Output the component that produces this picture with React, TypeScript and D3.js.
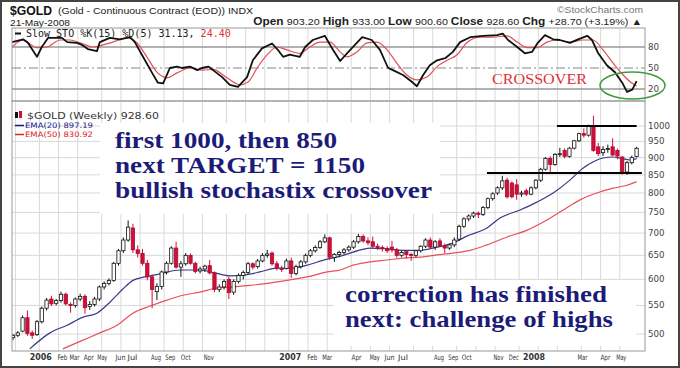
import React from 'react';
import * as d3 from 'd3';

// Weekly OHLC, $GOLD, Nov-2005 .. 21-May-2008 (131 bars)
const OPEN = [494,498,505,528,502,499,521,545,562,554,559,571,552,550,562,567,548,552,562,585,592,598,633,660,684,712,662,654,633,605,576,586,615,633,666,625,632,650,633,617,621,628,613,580,585,600,575,596,608,614,632,626,638,650,655,632,622,622,638,612,626,636,650,660,667,680,689,645,652,656,662,668,680,692,682,680,670,667,665,668,662,650,658,652,650,660,670,684,668,682,670,666,673,686,716,734,741,748,745,762,785,800,814,835,827,822,797,806,797,814,835,866,898,880,910,922,904,929,952,975,970,1001,933,915,925,933,922,902,858,885,903.2];
const HIGH = [500,505,532,541,506,524,548,564,568,562,576,574,556,565,572,571,558,566,588,596,602,636,664,690,730,722,672,664,640,610,592,618,637,670,680,638,655,654,636,626,630,640,616,590,600,605,600,612,618,636,635,642,655,662,658,638,628,643,645,630,640,654,664,672,684,697,692,655,660,666,672,684,698,697,690,692,676,672,670,682,666,660,662,656,662,672,688,690,684,688,676,676,690,720,738,745,752,752,766,788,802,818,847,842,832,838,806,812,818,838,870,902,904,914,930,928,932,955,978,992,1005,1035,945,935,940,960,928,905,890,906,933];
const LOW = [490,495,503,497,492,497,518,541,549,550,555,550,537,546,558,535,542,548,558,580,588,595,628,655,680,655,645,628,598,545,560,580,610,630,622,605,628,630,612,612,615,610,575,575,580,562,570,592,600,610,620,622,635,645,628,618,615,620,603,608,622,632,646,656,664,677,640,636,646,652,658,664,676,678,672,666,662,658,655,656,645,646,643,638,646,656,666,664,662,668,655,662,668,682,712,728,736,736,741,758,780,795,808,785,786,782,790,792,794,810,830,862,858,876,902,898,900,925,948,962,965,918,905,905,915,905,895,850,850,880,900.6];
const CLOSE = [498,502,528,501,498,521,545,560,553,559,571,553,550,562,567,546,552,562,585,592,598,633,660,684,714,662,654,633,605,580,586,615,633,666,625,632,650,633,616,621,627,613,580,585,596,574,596,608,614,632,625,638,650,653,632,623,621,638,612,626,636,650,660,667,680,689,646,652,656,662,668,680,692,682,678,670,667,665,660,662,650,656,652,650,660,670,684,668,680,670,666,673,684,716,734,741,748,745,762,785,798,814,833,790,790,797,800,797,814,835,866,898,880,910,912,904,929,952,975,970,1001,922,912,925,928,908,905,856,885,900,928.6];

// Moving averages (bar position, value)
const EMA20_IDX = [3.5,7.7,11.3,14.6,17.5,20.2,22.9,25,27.5,30.6,34.8,39,42.1,45.2,48.4,51.5,55,58.4,61.3,65.5,67.5,70.9,74.4,78,81.3,84.8,88.4,91.7,94.6,98.8,101.5,105.7,109.2,112.6,116.1,118.8,120.9,123,125.1,126.5,128.6,130];
const EMA20_VAL = [476,502,515,529,536,556,581,598,605,611,619,619,613,607,609,615,623,623,629,642,646,657,666,664,661,661,668,677,693,712,736,756,776,800,835,869,887,899,902,899,893,897.19];
const EMA50_IDX = [10.4,14.6,18.1,21.7,25,28.6,32.1,35.4,39,42.5,45.9,49.4,53,57.1,61.3,65.5,68.2,70.9,74.4,78,81.3,84.8,88.4,91.7,95.3,98.8,103,107.2,111.3,114.7,118.2,121.7,125.1,128,130];
const EMA50_VAL = [476,490,502,515,536,549,560,569,575,583,585,588,592,598,605,615,619,629,636,640,644,646,651,655,661,673,691,707,731,756,782,800,813,821,830.92];

// Slow stochastic %K(15) and %D(5)
const K_IDX = [-0.2,2.1,3.1,5,6,7.3,10.2,11.3,13.3,14.4,15.6,17.5,18.1,20.2,22.3,24.4,25.4,27.1,29,30.2,31.3,32.7,34.2,35.2,36.9,38.4,39.4,40.7,41.7,43.6,45.2,46.9,48.8,50,51.9,54,55.2,56.3,57.7,59.8,60.9,62.5,65,66.7,68.2,70.3,72.8,74.8,76.5,78.2,79.2,81.3,83.2,84.2,85.5,86.9,88.4,90.1,91.7,93.2,95.3,98,100.9,102.1,103.2,105.1,106.7,108.2,109.4,110.9,112.6,114,116.1,117.8,119.7,120.7,122,123.8,125.5,127,128,129.1,130];
const K_VAL = [87,91,86,66,80,93,93,87,86,83,77,74,87,93,91,94,87,66,43,29,28,50,52,50,52,47,50,52,47,37,26,23,37,61,78,85,76,66,69,66,80,90,96,76,60,76,94,90,76,50,47,40,30,24,40,54,61,64,73,87,94,96,97,99,90,80,71,73,86,97,91,90,86,91,96,90,71,54,44,29,16,19,31.13];
const D_IDX = [-0.2,2.1,5,7.1,9.8,11.9,14,16.7,18.8,20.8,23.8,25.8,27.9,30,32.1,34.2,36.9,39.6,41.7,44.6,47.3,49,50.9,53,55,57.1,59.8,61.9,64,66.1,68.2,69.6,71.7,73.8,75.9,78,80,82.1,84.2,86.3,88.4,90.5,92.6,94.6,97.4,100.1,103,105.1,107.2,109.2,111.3,113.4,116.1,118.8,120.9,123,125.1,127.2,128.7,130];
const D_VAL = [80,90,79,80,90,90,86,80,83,87,93,86,66,44,36,43,50,47,48,36,26,30,50,69,80,76,71,80,87,87,73,66,73,86,87,76,57,40,33,37,52,61,69,86,94,94,96,87,79,79,87,90,87,90,90,76,57,40,30,24.4];

const PRICE_TICKS = [500,550,600,650,700,750,800,850,900,950,1000];
const STO_TICKS = [20,50,80];
const X_LABELS = ['2006','Feb','Mar','Apr','May','Jun','Jul','Aug','Sep','Oct','Nov','2007','Feb','Mar','Apr','May','Jun','Jul','Aug','Sep','Oct','Nov','Dec','2008','Mar','Apr','May'];
const X_LABEL_POS = [5.8,10.3,12.8,15.8,18.6,22.4,24.9,29.8,32.8,36,40.8,57.8,62.4,65.5,71.6,75.4,78.5,81.3,88.8,91.8,94.6,101.2,104.4,108.6,118.7,123.5,126.8];
const MONTH_GRID = [1,6,10,14,19,23,27,32,36,40,45,49,53,58,62,66,71,75,79,84,88,93,97,101,106,110,114,119,123,127];

// Hand-drawn support / resistance levels
const LEVELS = [1000, 855];
const LEVEL_FROM = [113.4, 98.8];
const LEVEL_TO = [130, 131.1];

const NOTE1 = ['first 1000, then 850', 'next TARGET = 1150', 'bullish stochastix crossover'];
const NOTE1_W = [222, 250, 317];
const NOTE2 = ['correction has finished', 'next: challenge of highs'];
const NOTE2_W = [262, 268];

const SANS = 'Liberation Sans, Arial, sans-serif';
const VERD = 'DejaVu Sans, Verdana, sans-serif';
const SERIF = 'Liberation Serif, Times New Roman, serif';

export default function App() {
  const W = 680, H = 368;
  const L = 12, R = 645;
  const stoTop = 28, stoBot = 101, mainTop = 101, mainBot = 351;
  const N = CLOSE.length;
  const x = d3.scaleLinear().domain([0, N - 1]).range([13, 636.6]);
  const y = d3.scaleLog().domain([472.6, 1087]).range([mainBot, mainTop]);
  const ys = d3.scaleLinear().domain([0, 100]).range([103, 33]);

  const ema20 = d3.line<number>().x((_, i) => x(EMA20_IDX[i])).y(d => y(d)).curve(d3.curveMonotoneX)(EMA20_VAL) || '';
  const ema50 = d3.line<number>().x((_, i) => x(EMA50_IDX[i])).y(d => y(d)).curve(d3.curveMonotoneX)(EMA50_VAL) || '';
  const kLine = d3.line<number>().x((_, i) => x(K_IDX[i])).y(d => ys(d))(K_VAL) || '';
  const dLine = d3.line<number>().x((_, i) => x(D_IDX[i])).y(d => ys(d)).curve(d3.curveMonotoneX)(D_VAL) || '';

  const bw = 3.3;
  const gridColor = '#d9d9d9';

  return (
    <svg width={W} height={H} viewBox={`0 0 ${W} ${H}`} style={{ position: 'absolute', left: 0, top: 0, background: '#fff' }}>
      <defs>
        <clipPath id="clipMain"><rect x={L} y={mainTop} width={R - L} height={mainBot - mainTop} /></clipPath>
        <clipPath id="clipSto"><rect x={L} y={stoTop} width={R - L} height={stoBot - stoTop} /></clipPath>
      </defs>
      <rect x={0} y={0} width={W} height={H} fill="#fff" />

      {/* Header */}
      <text x={10} y={15} fontFamily={SANS} fontWeight="bold" fontSize={12.5} textLength={42} lengthAdjust="spacingAndGlyphs" fill="#111">$GOLD</text>
      <text x={58} y={14} fontFamily={SANS} fontSize={9} textLength={195} lengthAdjust="spacingAndGlyphs" fill="#222">(Gold - Continuous Contract (EOD)) INDX</text>
      <text x={10} y={25.5} fontFamily={SANS} fontSize={9} textLength={60} lengthAdjust="spacingAndGlyphs" fill="#222">21-May-2008</text>
      <text x={557} y={13} fontFamily={SANS} fontSize={9.5} textLength={86} lengthAdjust="spacingAndGlyphs" fill="#777">©StockCharts.com</text>
      <g transform="translate(642,25) scale(1.13,1)">
        <text x={0} y={0} textAnchor="end" fontFamily={SANS} fill="#222">
          <tspan fontWeight="bold" fontSize={10.5}>Open </tspan><tspan fontSize={9.5}>903.20 </tspan>
          <tspan fontWeight="bold" fontSize={10.5}>High </tspan><tspan fontSize={9.5}>933.00 </tspan>
          <tspan fontWeight="bold" fontSize={10.5}>Low </tspan><tspan fontSize={9.5}>900.60 </tspan>
          <tspan fontWeight="bold" fontSize={10.5}>Close </tspan><tspan fontSize={9.5}>928.60 </tspan>
          <tspan fontWeight="bold" fontSize={10.5}>Chg </tspan><tspan fontSize={9.5}>+28.70 (+3.19%) ▲</tspan>
        </text>
      </g>

      {/* Stochastic panel */}
      <rect x={L} y={stoTop} width={R - L} height={stoBot - stoTop} fill="#fff" />
      {MONTH_GRID.map((m, i) => (
        <line key={'sg' + i} x1={x(m) - 2.4} x2={x(m) - 2.4} y1={stoTop} y2={stoBot} stroke={gridColor} strokeWidth={1} />
      ))}
      {STO_TICKS.map(t => (
        <line key={'st' + t} x1={L} x2={R} y1={ys(t)} y2={ys(t)}
          stroke={t === 50 ? '#888' : '#999'} strokeWidth={t === 50 ? 1 : 1.4}
          strokeDasharray={t === 50 ? '9,3,2,3' : undefined} />
      ))}
      <g clipPath="url(#clipSto)">
        <path d={dLine} fill="none" stroke="#e0505a" strokeWidth={1.2} />
        <path d={kLine} fill="none" stroke="#111" strokeWidth={1.8} strokeLinejoin="round" />
      </g>
      <rect x={L} y={stoTop} width={R - L} height={stoBot - stoTop} fill="none" stroke="#999" strokeWidth={1} />
      {STO_TICKS.map(t => (
        <text key={'stl' + t} x={648} y={ys(t) + 3} fontFamily={VERD} fontSize={8} textLength={11} lengthAdjust="spacingAndGlyphs" fill="#444">{t}</text>
      ))}
      <line x1={15} x2={21} y1={33.5} y2={33.5} stroke="#111" strokeWidth={2} />
      <text x={26} y={37} fontFamily="DejaVu Sans Mono, monospace" fontSize={10} fill="#222">
        Slow STO %K(15) %D(5) 31.13, <tspan fill="#e0303a">24.40</tspan>
      </text>
      <text x={492} y={84} fontFamily={SERIF} fontSize={14} textLength={95} lengthAdjust="spacingAndGlyphs" fill="#e0303a">CROSSOVER</text>
      <ellipse cx={632.5} cy={85.5} rx={32.5} ry={13.5} fill="none" stroke="#3f9a3f" strokeWidth={1.5} />

      {/* Main price panel */}
      {MONTH_GRID.map((m, i) => (
        <line key={'mg' + i} x1={x(m) - 2.4} x2={x(m) - 2.4} y1={mainTop} y2={mainBot} stroke={gridColor} strokeWidth={1} />
      ))}
      {PRICE_TICKS.map(t => (
        <line key={'pg' + t} x1={L} x2={R} y1={y(t)} y2={y(t)} stroke={gridColor} strokeWidth={1} />
      ))}
      {/* annotation backgrounds */}
      <rect x={100} y={123} width={340} height={91} fill="#fff" />
      <rect x={334} y={280} width={302} height={66} fill="#fff" />

      <g clipPath="url(#clipMain)">
        <path d={ema50} fill="none" stroke="#e8505a" strokeWidth={1.2} />
        <path d={ema20} fill="none" stroke="#3a3a8a" strokeWidth={1.2} />
        {CLOSE.map((c, i) => {
          const o = OPEN[i];
          const up = c >= o;
          const cx = x(i);
          const top = y(Math.max(o, c));
          const h = Math.max(1, Math.abs(y(o) - y(c)));
          return (
            <g key={'c' + i}>
              <line x1={cx} x2={cx} y1={y(HIGH[i])} y2={y(LOW[i])} stroke={up ? '#111' : '#c8103a'} strokeWidth={1} />
              <rect x={cx - bw / 2} y={top} width={bw} height={h}
                fill={up ? '#fff' : '#d0103a'} stroke={up ? '#111' : '#b00830'} strokeWidth={0.8} />
            </g>
          );
        })}
        {LEVELS.map((lv, i) => (
          <line key={'lv' + i} x1={x(LEVEL_FROM[i])} x2={x(LEVEL_TO[i])} y1={y(lv)} y2={y(lv)} stroke="#000" strokeWidth={2} />
        ))}
      </g>
      <rect x={L} y={mainTop} width={R - L} height={mainBot - mainTop} fill="none" stroke="#999" strokeWidth={1} />

      {PRICE_TICKS.map(t => (
        <text key={'pl' + t} x={648} y={y(t) + 3} fontFamily={VERD} fontSize={8} textLength={t >= 1000 ? 22 : 16.5} lengthAdjust="spacingAndGlyphs" fill="#444">{t}</text>
      ))}
      {X_LABELS.map((lb, i) => {
        const yr = /^\d{4}$/.test(lb);
        return (
          <text key={'xl' + i} x={x(X_LABEL_POS[i])} y={360} textAnchor="middle" fontFamily={VERD}
            fontSize={yr ? 9 : 7.5} fontWeight={yr ? 'bold' : 'normal'} fill="#333"
            textLength={yr ? 22 : 10} lengthAdjust="spacingAndGlyphs">{lb}</text>
        );
      })}

      {/* main legend */}
      <rect x={15} y={112} width={3} height={6} fill="#111" />
      <rect x={19} y={111} width={3} height={7} fill="#d0103a" />
      <text x={27} y={119} fontFamily={VERD} fontSize={9} textLength={132} lengthAdjust="spacingAndGlyphs" fill="#333">$GOLD (Weekly) 928.60</text>
      <line x1={15} x2={24} y1={125.5} y2={125.5} stroke="#1a1a8c" strokeWidth={1.5} />
      <text x={25} y={128} fontFamily={VERD} fontSize={7.5} textLength={68} lengthAdjust="spacingAndGlyphs" fill="#1a1a8c">EMA(20) 897.19</text>
      <line x1={15} x2={24} y1={134.5} y2={134.5} stroke="#e02020" strokeWidth={1.5} />
      <text x={25} y={137} fontFamily={VERD} fontSize={7.5} textLength={68} lengthAdjust="spacingAndGlyphs" fill="#e02020">EMA(50) 830.92</text>

      {/* annotations */}
      {NOTE1.map((t, i) => (
        <text key={'n1' + i} x={115} y={148 + i * 25} fontFamily={SERIF} fontWeight="bold" fontSize={24}
          textLength={NOTE1_W[i]} lengthAdjust="spacingAndGlyphs" fill="#1c1c78">{t}</text>
      ))}
      {NOTE2.map((t, i) => (
        <text key={'n2' + i} x={345} y={302 + i * 25} fontFamily={SERIF} fontWeight="bold" fontSize={24}
          textLength={NOTE2_W[i]} lengthAdjust="spacingAndGlyphs" fill="#1c1c78">{t}</text>
      ))}

      {/* outer frame */}
      <rect x={1} y={1} width={W - 2} height={H - 2} fill="none" stroke="#444" strokeWidth={2} />
    </svg>
  );
}
